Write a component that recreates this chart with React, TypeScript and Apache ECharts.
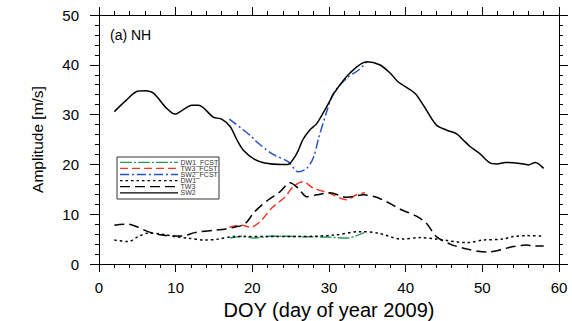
import React, { useEffect, useRef } from "react";
import * as echarts from "echarts";

const sw2: [number, number][] = [
  [2, 30.6], [3.5, 32.8], [5, 34.7], [6, 34.8], [7.1, 34.3], [8.8, 31.3], [9.9, 30.1], [11, 31.0],
  [12.1, 31.9], [13, 31.9], [14.9, 29.5], [16, 29.1], [17.1, 27.6], [18, 24.9], [18.8, 22.9],
  [20.3, 21.0], [21.6, 20.3], [23.8, 20.0], [24.6, 20.0], [25.8, 22.2], [26.6, 25.0], [27.5, 26.9],
  [28.4, 28.2], [29.7, 31.6], [30.8, 34.6], [32.7, 38.3], [34.9, 40.6], [36.6, 40.0], [38, 38.3],
  [39, 36.6], [41.2, 34.3], [42.3, 31.9], [44, 27.9], [45.3, 26.9], [46.7, 26.1], [47.5, 24.9],
  [48.4, 23.6], [49.7, 22.1], [51, 20.3], [51.9, 20.1], [53, 20.4], [54.9, 20.2], [56, 19.9],
  [56.9, 20.4], [58, 19.2],
];
const sw2Fcst: [number, number][] = [
  [17, 29.1], [19.9, 25.6], [20.3, 24.9], [22.5, 22.2], [24.7, 20.5], [26, 18.5], [27.1, 19.2],
  [28, 21.5], [28.6, 25.0], [29.7, 30.6], [30.6, 34.3], [32.3, 37.3], [34, 39.1], [34.9, 40.6],
];
const tw3: [number, number][] = [
  [2, 7.8], [3.8, 8.0], [5.1, 7.4], [6.4, 6.5], [8.2, 5.8], [10.8, 5.6], [12.5, 6.3], [15.1, 6.8],
  [16.4, 7.0], [17.7, 7.4], [19, 8.0], [20.3, 10.5], [22.1, 12.9], [23.6, 14.5], [24.9, 16.3],
  [26, 15.2], [27.1, 13.5], [28.4, 13.9], [30.1, 14.3], [32.3, 13.4], [34.5, 13.9], [36.2, 13.4],
  [37.5, 12.5], [39.3, 11.0], [41.4, 9.6], [42.7, 8.2], [44, 5.5], [45.8, 4.0], [48, 3.0],
  [50.6, 2.4], [52.3, 2.8], [54, 3.5], [55.8, 3.8], [56.6, 3.6], [58, 3.6],
];
const tw3Fcst: [number, number][] = [
  [17, 7.4], [18.6, 7.8], [19.8, 7.4], [21.2, 8.8], [22.5, 11.2], [24.3, 13.5], [25.3, 15.5],
  [26.6, 16.5], [28, 15.2], [30.1, 14.2], [32.3, 12.9], [33.6, 13.9], [34.7, 14.3],
];
const dw1: [number, number][] = [
  [2, 4.8], [3.8, 4.5], [5.1, 5.5], [6.4, 6.2], [8.2, 6.0], [9.9, 5.5], [11.6, 5.2], [13.8, 4.8],
  [15.6, 5.0], [17.5, 5.5], [21.9, 5.5], [26.2, 5.5], [30.6, 5.8], [34, 6.5], [36.4, 6.2],
  [39.5, 5.0], [41.9, 5.3], [44, 5.0], [48, 4.3], [50.1, 4.8], [52.7, 5.0], [54, 5.5],
  [55.8, 5.7], [58, 5.6],
];
const dw1Fcst: [number, number][] = [
  [17.1, 5.2], [18.8, 5.6], [20.1, 5.2], [22.7, 5.6], [26.2, 5.5], [29.7, 5.4], [32.3, 5.2],
  [34.6, 6.3],
];

const seriesNames = ["DW1_FCST", "TW3_FCST", "SW2_FCST", "DW1", "TW3", "SW2"];
const seriesData = [dw1Fcst, tw3Fcst, sw2Fcst, dw1, tw3, sw2];
const seriesColors = ["#2e9a5e", "#ee3a22", "#2550c8", "#000", "#000", "#000"];
const seriesDash: (number[] | null)[] = [[12, 2, 2, 2], [8, 4], [9, 3, 2, 3], [2.5, 3], [10, 5], null];

const FONT = "'Liberation Sans', Arial, Helvetica, sans-serif";

export default function App() {
  const ref = useRef<HTMLDivElement>(null);
  useEffect(() => {
    if (!ref.current) return;
    const chart = echarts.init(ref.current, null, { renderer: "svg" });
    const axisCommon = {
      axisLine: { show: true, onZero: false, lineStyle: { color: "#000", width: 1 } },
      splitLine: { show: false },
    };
    const tickX = { show: true, inside: false, length: 8, lineStyle: { color: "#000" } };
    const minorX = { show: true, splitNumber: 5, length: 4, lineStyle: { color: "#000" } };

    const legendTop = 157;
    const legendLeft = 117;
    const rowH = 6.1;
    const legendGraphics: any[] = [
      {
        type: "rect",
        shape: { x: legendLeft, y: legendTop, width: 102, height: 42 },
        style: { fill: "#fff", stroke: "#333", lineWidth: 1 },
        z: 10,
      },
    ];
    seriesNames.forEach((name, i) => {
      const y = legendTop + 5.3 + i * rowH;
      legendGraphics.push({
        type: "line",
        shape: { x1: 120, y1: y, x2: 178, y2: y },
        style: {
          stroke: seriesColors[i],
          lineWidth: 1.3,
          lineDash: seriesDash[i] || undefined,
        },
        z: 11,
      });
      legendGraphics.push({
        type: "text",
        x: 180.5,
        y: y,
        style: {
          text: name,
          fontSize: 7,
          fill: "#333",
          fontFamily: FONT,
          verticalAlign: "middle",
          align: "left",
        },
        z: 11,
      });
    });

    chart.setOption({
      animation: false,
      textStyle: { fontFamily: FONT },
      grid: { left: 99, right: 13, top: 15, bottom: 57, containLabel: false, outerBoundsMode: "none" },
      xAxis: [
        {
          type: "value", min: 0, max: 60, interval: 10, position: "bottom",
          ...axisCommon,
          axisTick: tickX,
          minorTick: minorX,
          axisLabel: { color: "#000", fontSize: 15, margin: 16, fontFamily: FONT },
          name: "DOY (day of year 2009)", nameLocation: "middle", nameGap: 35,
          nameTextStyle: { color: "#000", fontSize: 20, fontFamily: FONT },
        },
        {
          type: "value", min: 0, max: 60, interval: 10, position: "top",
          ...axisCommon,
          axisTick: tickX,
          minorTick: minorX,
          axisLabel: { show: false },
        },
      ],
      yAxis: [
        {
          type: "value", min: 0, max: 50, interval: 10, position: "left",
          ...axisCommon,
          axisTick: { ...tickX, length: 9 },
          minorTick: minorX,
          axisLabel: { color: "#000", fontSize: 15, margin: 20, fontFamily: FONT },
          name: "Amplitude [m/s]", nameLocation: "middle", nameGap: 54,
          nameTextStyle: { color: "#000", fontSize: 15.5, fontFamily: FONT },
        },
        {
          type: "value", min: 0, max: 50, interval: 10, position: "right",
          ...axisCommon,
          axisTick: { ...tickX, length: 9 },
          minorTick: minorX,
          axisLabel: { show: false },
        },
      ],
      graphic: [
        {
          type: "text", left: 110, top: 28,
          style: { text: "(a) NH", fontSize: 14, fill: "#000", fontFamily: FONT },
        },
        ...legendGraphics,
      ],
      series: seriesNames.map((name, i) => ({
        name,
        type: "line",
        data: seriesData[i],
        showSymbol: false,
        symbol: "none",
        smooth: 0.3,
        lineStyle: { color: seriesColors[i], type: seriesDash[i] || "solid", width: 1.5 },
        itemStyle: { color: seriesColors[i] },
        z: 3,
      })),
    });
    return () => chart.dispose();
  }, []);
  return <div ref={ref} style={{ position: "absolute", left: 0, top: 0, width: 572, height: 321 }} />;
}
